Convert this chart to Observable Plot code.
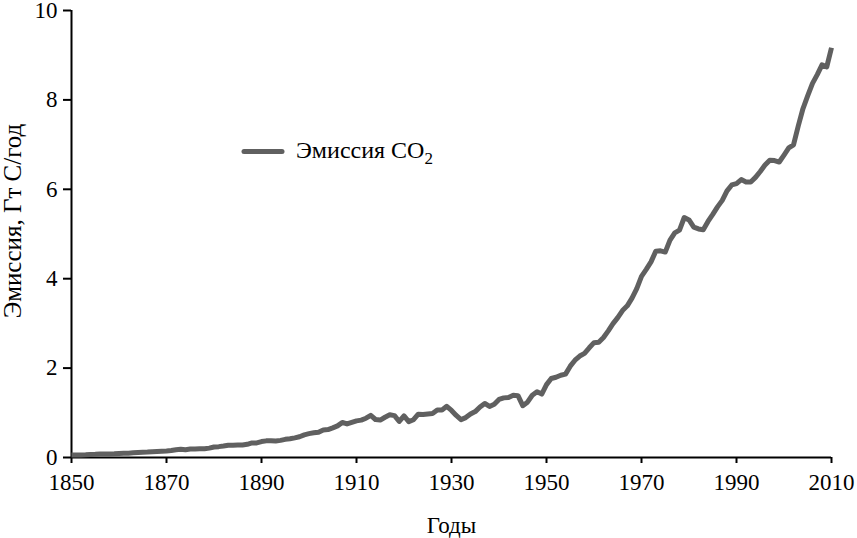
<!DOCTYPE html>
<html>
<head>
<meta charset="utf-8">
<script src="https://cdn.jsdelivr.net/npm/d3@7"></script>
<script src="https://cdn.jsdelivr.net/npm/@observablehq/plot@0.6"></script>
<style>
  html, body { margin: 0; padding: 0; background: #fff; }
  #chart { position: relative; width: 857px; height: 538px; }
</style>
</head>
<body>
<div id="chart"></div>
<script>
// Annual years and emissions (Gt C / year)
const startYear = 1850;
const emissions = [
  0.054,0.054,0.057,0.059,0.069,0.071,0.076,0.077,0.078,0.083,
  0.091,0.095,0.097,0.104,0.112,0.119,0.122,0.130,0.135,0.142,
  0.147,0.156,0.173,0.184,0.174,0.188,0.191,0.194,0.196,0.210,
  0.236,0.243,0.256,0.272,0.275,0.277,0.281,0.295,0.327,0.327,
  0.356,0.372,0.374,0.370,0.383,0.406,0.419,0.440,0.465,0.507,
  0.534,0.552,0.566,0.617,0.624,0.663,0.707,0.784,0.750,0.785,
  0.819,0.836,0.879,0.943,0.850,0.838,0.901,0.955,0.936,0.806,
  0.932,0.803,0.845,0.970,0.963,0.975,0.983,1.062,1.065,1.145,
  1.053,0.940,0.847,0.893,0.973,1.027,1.130,1.209,1.142,1.192,
  1.299,1.334,1.342,1.391,1.383,1.160,1.238,1.392,1.469,1.419,
  1.630,1.767,1.795,1.841,1.865,2.043,2.177,2.270,2.330,2.454,
  2.569,2.580,2.686,2.833,2.995,3.130,3.288,3.393,3.566,3.780,
  4.053,4.208,4.376,4.614,4.623,4.596,4.864,5.026,5.087,5.369,
  5.315,5.152,5.113,5.094,5.280,5.439,5.607,5.752,5.965,6.097,
  6.127,6.217,6.164,6.162,6.266,6.398,6.542,6.651,6.643,6.610,
  6.765,6.927,6.996,7.416,7.807,8.093,8.370,8.566,8.783,8.740,9.167
];
const years = emissions.map((_, i) => startYear + i);
const xTicks = [1850, 1870, 1890, 1910, 1930, 1950, 1970, 1990, 2010];
const yTicks = [0, 2, 4, 6, 8, 10];
const xLabel = "Годы";
const yLabel = "Эмиссия, Гт С/год";
const seriesName = "Эмиссия CO";
const seriesSub = "2";

const data = years.map((year, i) => ({year, value: emissions[i]}));

const font = "'Liberation Serif', 'Times New Roman', serif";

const plot = Plot.plot({
  width: 857,
  height: 538,
  marginLeft: 71,
  marginRight: 26,
  marginTop: 10,
  marginBottom: 81,
  style: {fontFamily: font, fontSize: "23px", color: "#000", background: "#fff"},
  x: {domain: [1850, 2010]},
  y: {domain: [0, 10]},
  marks: [
    Plot.axisX({ticks: xTicks, tickFormat: d => String(d), tickSize: 6, tickPadding: 10,
      strokeWidth: 2, fontSize: 23, label: xLabel, labelAnchor: "center", labelOffset: 75, labelArrow: "none"}),
    Plot.axisY({ticks: yTicks, tickFormat: d => String(d), tickSize: 8, tickPadding: 6,
      strokeWidth: 2, fontSize: 23, label: null}),
    Plot.text([yLabel], {frameAnchor: "left", rotate: -90, dx: -59, dy: -13,
      fontSize: 25, lineAnchor: "middle", textAnchor: "middle", fill: "#000"}),
    Plot.ruleX([1850], {stroke: "#000", strokeWidth: 2}),
    Plot.ruleY([0], {stroke: "#000", strokeWidth: 2}),
    Plot.line(data, {x: "year", y: "value", stroke: "#606060", strokeWidth: 5,
      strokeLinejoin: "round", strokeLinecap: "butt"})
  ]
});

document.getElementById("chart").appendChild(plot);

// Legend inside plot area
const svg = d3.select(plot);
const lg = svg.append("g").attr("font-family", font).attr("text-anchor", "start");
lg.append("line").attr("x1", 244).attr("x2", 282).attr("y1", 151.5).attr("y2", 151.5)
  .attr("stroke", "#606060").attr("stroke-width", 5).attr("stroke-linecap", "round");
const t = lg.append("text").attr("x", 296).attr("y", 157.5).attr("font-size", 24).attr("fill", "#000");
t.append("tspan").text(seriesName);
t.append("tspan").attr("dy", 6).attr("font-size", 17).text(seriesSub);
</script>
</body>
</html>
